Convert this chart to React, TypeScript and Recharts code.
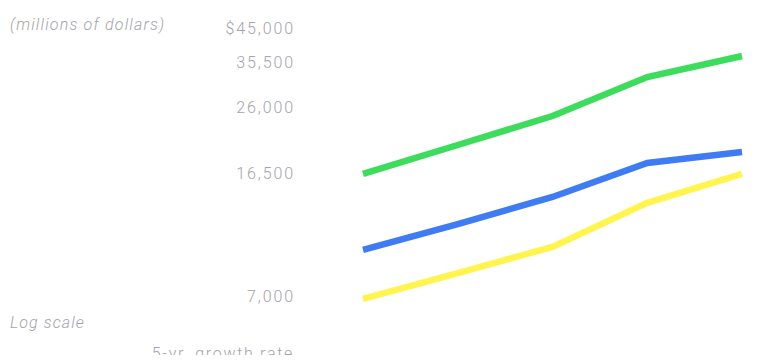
import { LineChart, Line, XAxis, YAxis } from 'recharts'

const years = ['Y1', 'Y2', 'Y3', 'Y4', 'Y5']
const greenSeries = [16380, 20030, 24500, 32120, 37170]
const blueSeries = [9660, 11570, 13960, 17680, 19080]
const yellowSeries = [6875, 8230, 9870, 13400, 16380]
const yTicks = [7000, 16500, 26000, 35500, 45000]

const data = years.map((year, i) => ({
  year,
  green: greenSeries[i],
  blue: blueSeries[i],
  yellow: yellowSeries[i],
}))

const textColor = '#a3a3ab'
const font = 'Roboto, "Open Sans", sans-serif'

const formatTick = (v: number) =>
  v === 45000 ? `$${v.toLocaleString('en-US')}` : v.toLocaleString('en-US')

const noteStyle: React.CSSProperties = {
  position: 'absolute',
  fontFamily: font,
  fontWeight: 300,
  fontSize: 16,
  color: textColor,
  whiteSpace: 'nowrap',
  lineHeight: '18px',
}

export default function App() {
  return (
    <div style={{ position: 'relative', width: 783, height: 363, margin: -8, background: '#fff', overflow: 'hidden' }}>
      <LineChart
        width={783}
        height={363}
        data={data}
        margin={{ top: 10, right: 41, bottom: 43, left: 0 }}
      >
        <XAxis dataKey="year" hide={true} padding={{ left: 0, right: 0 }} />
        <YAxis
          scale="log"
          domain={[5940, 51160]}
          allowDataOverflow={true}
          ticks={yTicks}
          tickFormatter={formatTick}
          width={363}
          tickSize={0}
          tickMargin={68}
          axisLine={false}
          tickLine={false}
          tick={{ fill: textColor, fontSize: 16, fontFamily: font, fontWeight: 300, letterSpacing: 1.9 }}
        />
        <Line dataKey="green" stroke="#3ddc5c" strokeWidth={6.5} dot={false} isAnimationActive={false} />
        <Line dataKey="blue" stroke="#3f7cf4" strokeWidth={6.5} dot={false} isAnimationActive={false} />
        <Line dataKey="yellow" stroke="#fff450" strokeWidth={6.5} dot={false} isAnimationActive={false} />
      </LineChart>
      <div style={{ ...noteStyle, left: 10, top: 16, fontStyle: 'italic', letterSpacing: 1.2 }}>(millions of dollars)</div>
      <div style={{ ...noteStyle, left: 10, top: 314, fontStyle: 'italic', letterSpacing: 1.1 }}>Log scale</div>
      <div style={{ ...noteStyle, right: 489, top: 345, letterSpacing: 1.7 }}>5-yr. growth rate</div>
    </div>
  )
}
